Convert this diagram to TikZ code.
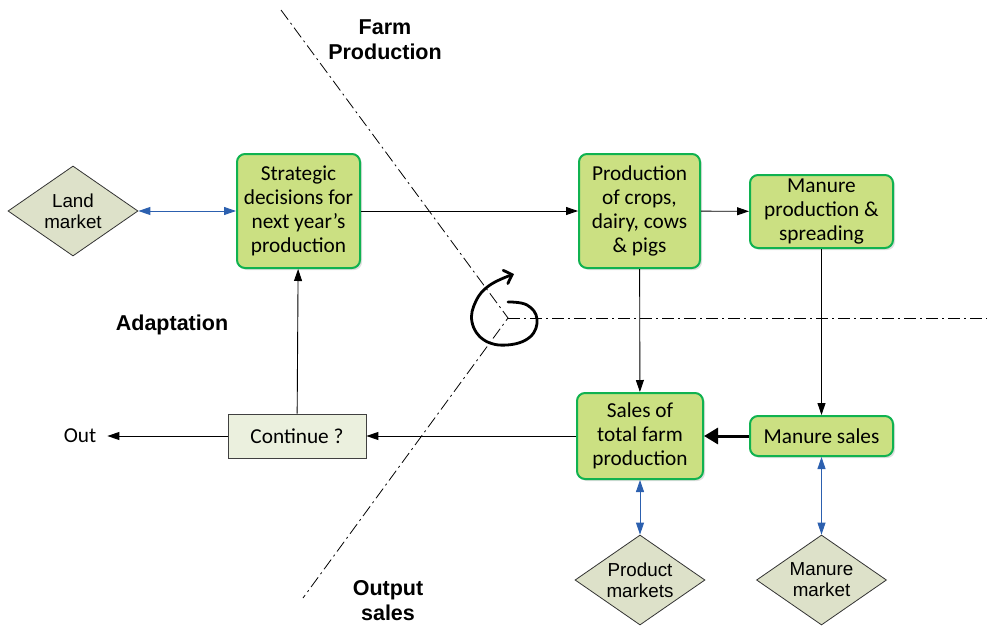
\documentclass[tikz,border=0pt]{standalone}
\usepackage{fontspec}
\setmainfont{Carlito}
\newfontfamily\arialf{Liberation Sans}
\usetikzlibrary{arrows.meta,shapes.geometric,shadows}
\definecolor{boxfill}{RGB}{203,224,130}
\definecolor{boxedge}{RGB}{16,178,80}
\definecolor{mktfill}{RGB}{221,225,201}
\definecolor{askfill}{RGB}{235,240,222}
\definecolor{linkblue}{RGB}{44,96,175}
\begin{document}
\begin{tikzpicture}[x=1pt,y=-1pt,
  stage/.style={draw=boxedge,line width=2pt,fill=boxfill,rounded corners=8pt,
    align=center,inner sep=0pt,font=\fontsize{21.3}{24}\selectfont,
    drop shadow={opacity=0.25,shadow xshift=2pt,shadow yshift=-2pt}},
  market/.style={diamond,draw=black!80,line width=0.8pt,fill=mktfill,align=center,
    inner sep=0pt,minimum width=130pt,minimum height=90pt,aspect=1.45,
    font=\arialf\fontsize{18.8}{21}\selectfont},
  question/.style={draw=black!75,line width=0.8pt,fill=askfill,inner sep=0pt,
    minimum width=138pt,minimum height=44pt,font=\fontsize{21.3}{24}\selectfont},
  sector/.style={font=\arialf\bfseries\fontsize{21.5}{25}\selectfont,align=center},
  flow/.style={line width=0.9pt,-{Triangle[length=12pt,width=8pt]}},
  trade/.style={draw=linkblue,line width=0.9pt,
    {Triangle[length=12pt,width=8pt]}-{Triangle[length=12pt,width=8pt]},
    linkblue},
  border/.style={line width=0.8pt,dash pattern=on 12pt off 4pt on 2pt off 4pt}]
\useasboundingbox (0,0) rectangle (987,629);

% sector boundaries
\coordinate (hub) at (508,318);
\coordinate (topend) at (281,10);
\coordinate (botend) at (303,598);
\coordinate (rightend) at (987,318);
\draw[border] (topend) -- (hub) -- (botend);
\draw[border] (hub) -- (rightend);

% circular cycle arrow
\draw[line width=2.8pt,line cap=round,-{Straight Barb[length=7pt,width=14pt,line cap=round]}]
  plot[smooth,tension=0.7] coordinates {(508,302) (527,305) (537,319) (530,337) (507,345)
   (484,340) (472,322) (476,301) (490,285) (514,274)};

% sector labels
\node[sector] (farm) at (385,40) {Farm\\Production};
\node[sector] (adapt) at (172,325) {Adaptation};
\node[sector] (outsales) at (388,601) {Output\\sales};

% process boxes
\node[stage,minimum width=123pt,minimum height=114pt] (strategic) at (298.5,211)
  {Strategic\\decisions for\\next year’s\\production};
\node[stage,minimum width=121pt,minimum height=114pt] (prod) at (639.5,211)
  {Production\\of crops,\\dairy, cows\\\& pigs};
\node[stage,minimum width=143pt,minimum height=73pt] (manprod) at (821.5,211.5)
  {Manure\\production \&\\spreading};
\node[stage,minimum width=126pt,minimum height=86pt] (sales) at (640,436)
  {Sales of\\total farm\\production};
\node[stage,minimum width=143pt,minimum height=40pt] (mansales) at (821.5,436)
  {Manure sales};
\node[question] (cont) at (297,436) {Continue ?};
\node[font=\fontsize{21.3}{24}\selectfont,inner sep=0pt] (out) at (80,436) {Out};

% markets
\node[market] (land) at (73,211) {Land\\market};
\node[market] (prodmkt) at (640,580) {Product\\markets};
\node[market] (manmkt) at (821.5,580) {Manure\\market};

% flows
\draw[flow] (strategic) -- (prod);
\draw[flow] (prod) -- (manprod);
\draw[flow] (prod) -- (sales);
\draw[flow] (manprod) -- (mansales);
\draw[line width=3pt,-{Triangle[length=14pt,width=16pt]}] (mansales) -- (sales);
\draw[flow] (sales) -- (cont);
\draw[flow,shorten >=11pt] (cont) -- (out);
\draw[flow] (cont) -- (strategic);

% market links
\draw[trade] (land) -- (strategic);
\draw[trade] (sales) -- (prodmkt);
\draw[trade] (mansales) -- (manmkt);
\end{tikzpicture}
\end{document}
